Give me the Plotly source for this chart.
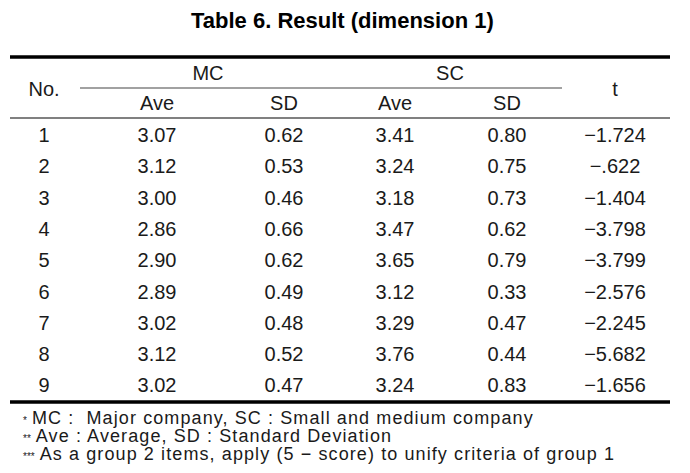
import plotly.graph_objects as go

# ---- data ----
title = "Table 6. Result (dimension 1)"
row_no = [1, 2, 3, 4, 5, 6, 7, 8, 9]
mc_ave = [3.07, 3.12, 3.00, 2.86, 2.90, 2.89, 3.02, 3.12, 3.02]
mc_sd = [0.62, 0.53, 0.46, 0.66, 0.62, 0.49, 0.48, 0.52, 0.47]
sc_ave = [3.41, 3.24, 3.18, 3.47, 3.65, 3.12, 3.29, 3.76, 3.24]
sc_sd = [0.80, 0.75, 0.73, 0.62, 0.79, 0.33, 0.47, 0.44, 0.83]
t_val = [-1.724, -0.622, -1.404, -3.798, -3.799, -2.576, -2.245, -5.682, -1.656]
group_labels = ["MC", "SC"]
sub_labels = ["Ave", "SD", "Ave", "SD"]
footnotes = [
    ("*", "MC :  Major company, SC : Small and medium company"),
    ("**", "Ave : Average, SD : Standard Deviation"),
    ("***", "As a group 2 items, apply (5 \u2212 score) to unify criteria of group 1"),
]

# ---- formatting ----
def f2(v):
    return f"{v:.2f}"

def ft(v):
    s = f"{abs(v):.3f}"
    if abs(v) < 1:
        s = s[1:]
    return ("\u2212" if v < 0 else "") + s

# ---- layout constants (viewport pixels; page body has an 8px margin) ----
W, H = 690, 473
OFF = 8
col_x = [44, 157, 284, 395, 507, 615]
row0, row_h = 137, 31.3
FONT = "Liberation Sans, Arimo, Arial, sans-serif"
TXT = "#1a1a1a"
fs = 20

fig = go.Figure()

def row_y(i):
    return row0 + i * row_h

ys = [row_y(i) for i in range(len(row_no))]
columns = [
    [str(n) for n in row_no],
    [f2(v) for v in mc_ave],
    [f2(v) for v in mc_sd],
    [f2(v) for v in sc_ave],
    [f2(v) for v in sc_sd],
    [ft(v) for v in t_val],
]
for cx, texts in zip(col_x, columns):
    fig.add_trace(go.Scatter(
        x=[cx] * len(texts), y=ys, text=texts, mode="text",
        textposition="middle center",
        textfont=dict(family=FONT, size=fs, color=TXT),
        hoverinfo="skip", showlegend=False,
    ))

# header texts
hdr_x = [col_x[0], 208, 450, col_x[5]]
hdr_t = ["No.", group_labels[0], group_labels[1], "t"]
hdr_y = [91, 75, 75, 91]
fig.add_trace(go.Scatter(
    x=hdr_x, y=hdr_y, text=hdr_t, mode="text", textposition="middle center",
    textfont=dict(family=FONT, size=fs, color=TXT), hoverinfo="skip", showlegend=False,
))
fig.add_trace(go.Scatter(
    x=col_x[1:5], y=[105] * 4, text=sub_labels, mode="text", textposition="middle center",
    textfont=dict(family=FONT, size=fs, color=TXT), hoverinfo="skip", showlegend=False,
))

# rules
def hline(y, x0, x1, w, c):
    fig.add_shape(type="line", x0=x0, x1=x1, y0=y, y1=y, xref="x", yref="y",
                  line=dict(color=c, width=w))

hline(57, 10, 670, 3.5, "#000000")
hline(88, 80, 562, 1.2, "#444444")
hline(118, 10, 670, 1.8, "#808080")
hline(402, 10, 670, 3.5, "#000000")

# title
fig.add_annotation(x=342, y=20, xref="x", yref="y", text="<b>" + title + "</b>",
                   showarrow=False, xanchor="center", yanchor="middle",
                   font=dict(family=FONT, size=22, color="#000"))

# footnotes
fn_y = [418, 436, 454]
for (stars, txt), y in zip(footnotes, fn_y):
    fig.add_annotation(x=21, y=y, xref="x", yref="y",
                       text=(f"<span style='font-size:10px'>{stars}</span> "
                             f"<span style='letter-spacing:1.1px'>{txt}</span>"),
                       showarrow=False, xanchor="left", yanchor="middle",
                       font=dict(family=FONT, size=18, color=TXT))

fig.update_layout(
    width=W - 2 * OFF, height=H - 2 * OFF, margin=dict(l=0, r=0, t=0, b=0),
    paper_bgcolor="white", plot_bgcolor="white",
    xaxis=dict(range=[OFF, W - OFF], visible=False, fixedrange=True),
    yaxis=dict(range=[H - OFF, OFF], visible=False, fixedrange=True),
)
fig.write_html("out.html")
